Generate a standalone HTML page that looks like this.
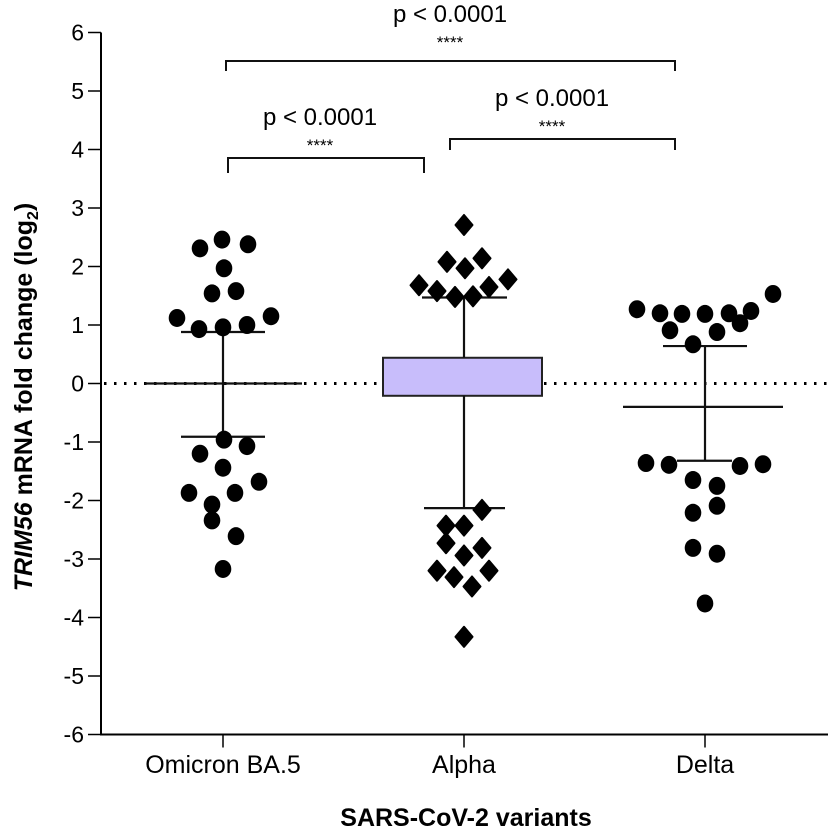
<!DOCTYPE html>
<html><head><meta charset="utf-8"><style>
body{margin:0;background:#fff}
svg{display:block;font-family:"Liberation Sans",Arial,sans-serif}
</style></head><body>
<svg id="chart" width="828" height="833" viewBox="0 0 828 833" xmlns="http://www.w3.org/2000/svg">
<g id="axes"></g>
<g id="marks"></g>
<g id="sig"></g>
<text x="466" y="826" text-anchor="middle" font-weight="bold" font-size="25">SARS-CoV-2 variants</text>
<text transform="translate(32,397) rotate(-90)" text-anchor="middle" font-weight="bold" font-size="25"><tspan font-style="italic">TRIM56</tspan> mRNA fold change (log<tspan font-size="16" dy="6">2</tspan><tspan dy="-6">)</tspan></text>
</svg>
<script>
const categories = ["Omicron BA.5","Alpha","Delta"];
const yTicks = [6,5,4,3,2,1,0,-1,-2,-3,-4,-5,-6];
const omicronValues = [2.31,2.46,2.38,1.97,1.54,1.58,1.12,0.93,0.96,1.0,1.15,-0.96,-1.07,-1.20,-1.44,-1.68,-1.87,-1.87,-2.07,-2.34,-2.61,-3.17];
const omicronJitter = [-23,-1,25,1,-11,13,-46,-24,0,24,48,1,24,-23,0,36,-34,12,-11,-11,13,0];
const alphaValues = [2.71,2.08,2.14,1.97,1.68,1.78,1.58,1.65,1.48,1.49,-2.16,-2.43,-2.43,-2.73,-2.81,-2.94,-3.2,-3.2,-3.31,-3.47,-4.33];
const alphaJitter = [0,-17,18,1,-45,44,-27,25,-9,9,18,-18,0,-18,18,0,-27,25,-10,8,0];
const deltaValues = [1.27,1.2,1.19,1.19,1.2,1.24,1.53,1.03,0.91,0.88,0.67,-1.36,-1.39,-1.41,-1.38,-1.65,-1.75,-2.09,-2.21,-2.81,-2.91,-3.76];
const deltaJitter = [-68,-45,-23,0,24,46,68,35,-35,12,-12,-59,-36,35,58,-12,12,12,-12,-12,12,0];
const omicronStats = {mean:0, upper:0.88, lower:-0.91};
const alphaBox = {q3:0.44, q1:-0.21, whiskerHigh:1.47, whiskerLow:-2.13};
const deltaStats = {mean:-0.40, upper:0.64, lower:-1.32};
const pLabels = ["p < 0.0001","p < 0.0001","p < 0.0001"];

const NS="http://www.w3.org/2000/svg";
const Y=v=>383.5-58.5*v;
const X=i=>223+241*i;
function mk(tag,attrs,parent,text){const e=document.createElementNS(NS,tag);for(const k in attrs)e.setAttribute(k,attrs[k]);if(text!==undefined)e.textContent=text;parent.appendChild(e);return e;}
const axes=document.getElementById('axes'),marks=document.getElementById('marks'),sig=document.getElementById('sig');

let l=mk('line',{x1:101,y1:Y(6),x2:101,y2:Y(-6)+1,stroke:'#000','stroke-width':2},axes);


l=mk('line',{x1:100,y1:Y(-6),x2:828,y2:Y(-6),stroke:'#000','stroke-width':2},axes);


yTicks.forEach(t=>{
  const tk=mk('line',{x1:88,x2:101,y1:Y(t),y2:Y(t),stroke:'#000','stroke-width':1.5},axes);
  
  
  const tl=mk('text',{x:84,y:Y(t)+8,'text-anchor':'end','font-size':23},axes,String(t));
  
  
});
categories.forEach((c,i)=>{
  const tk=mk('line',{x1:X(i),x2:X(i),y1:Y(-6),y2:Y(-6)+13,stroke:'#000','stroke-width':1.5},axes);
  
  
  const tl=mk('text',{x:X(i),y:773,'text-anchor':'middle','font-size':25},axes,c);
  
  
});
// dotted zero line
l=mk('line',{x1:104,x2:828,y1:Y(0),y2:Y(0),stroke:'#000','stroke-width':3,'stroke-dasharray':'2.5 7.5'},axes);



// alpha box
const bx=mk('rect',{x:383,y:Y(alphaBox.q3),width:159,height:Y(alphaBox.q1)-Y(alphaBox.q3),fill:'#c8bdfb',stroke:'#222','stroke-width':2},marks);


function seg(x1,y1,x2,y2,name){const s=mk('line',{x1,y1,x2,y2,stroke:'#111','stroke-width':2.2},marks);}
seg(X(1),Y(alphaBox.q3),X(1),Y(alphaBox.whiskerHigh),'alpha-upper-whisker');
seg(X(1),Y(alphaBox.q1),X(1),Y(alphaBox.whiskerLow),'alpha-lower-whisker');
seg(422,Y(alphaBox.whiskerHigh),507,Y(alphaBox.whiskerHigh),'alpha-upper-cap');
seg(424,Y(alphaBox.whiskerLow),505,Y(alphaBox.whiskerLow),'alpha-lower-cap');
// omicron mean/sd
seg(X(0),Y(omicronStats.upper),X(0),Y(omicronStats.lower),'omicron-sd-line');
seg(145,Y(omicronStats.mean),302,Y(omicronStats.mean),'omicron-mean-line');
seg(181,Y(omicronStats.upper),265,Y(omicronStats.upper),'omicron-upper-cap');
seg(181,Y(omicronStats.lower),265,Y(omicronStats.lower),'omicron-lower-cap');
// delta mean/sd
seg(X(2),Y(deltaStats.upper),X(2),Y(deltaStats.lower),'delta-sd-line');
seg(623,Y(deltaStats.mean),783,Y(deltaStats.mean),'delta-mean-line');
seg(663,Y(deltaStats.upper),747,Y(deltaStats.upper),'delta-upper-cap');
seg(677,Y(deltaStats.lower),732,Y(deltaStats.lower),'delta-lower-cap');

function dots(vals,jit,i,shape,name){
  vals.forEach((v,k)=>{
    const cx=X(i)+jit[k],cy=Y(v);let d;
    if(shape==='diamond'){d=mk('path',{d:`M${cx},${cy-10}L${cx+8.5},${cy}L${cx},${cy+10}L${cx-8.5},${cy}Z`,fill:'#000',stroke:'#000','stroke-width':2,'stroke-linejoin':'round'},marks);}
    else{d=mk('ellipse',{cx,cy,rx:8.3,ry:9,fill:'#000'},marks);}
    
    
  });
}
dots(omicronValues,omicronJitter,0,'circle','omicron-point');
dots(alphaValues,alphaJitter,1,'diamond','alpha-point');
dots(deltaValues,deltaJitter,2,'circle','delta-point');

function bracket(x1,x2,y,leg,tx,ty,label,name){
  const p=mk('path',{d:`M${x1},${y+leg}V${y}H${x2}V${y+leg}`,fill:'none',stroke:'#111','stroke-width':2},sig);
  
  
  const t=mk('text',{x:tx,y:ty,'text-anchor':'middle','font-size':24},sig,label);
  
  
  const s=mk('text',{x:tx,y:ty+26,'text-anchor':'middle','font-size':17},sig,'****');
  
  
}
bracket(226,675,61,10,450,22,pLabels[0],'omicron-delta');
bracket(228,424,158,15,320,125,pLabels[1],'omicron-alpha');
bracket(450,675,139,11,552,106,pLabels[2],'alpha-delta');
</script>
</body></html>
